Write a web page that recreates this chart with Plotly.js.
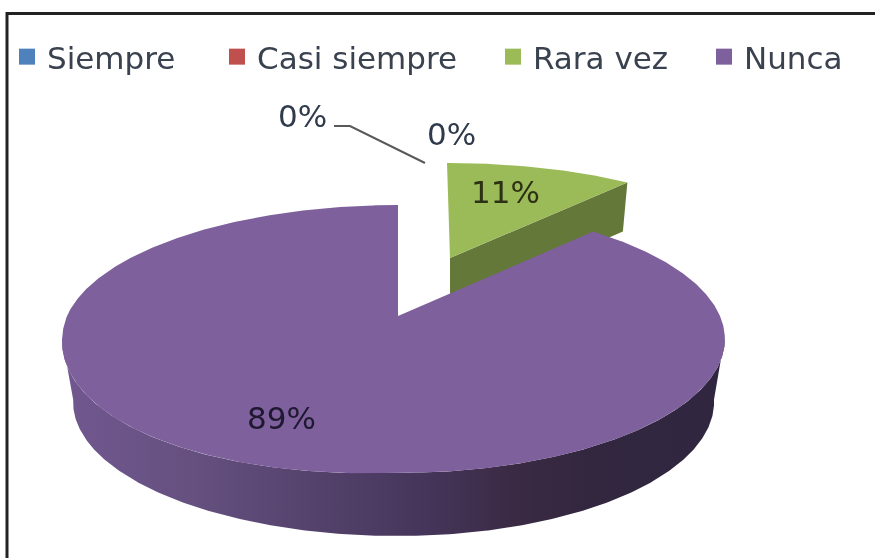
<!DOCTYPE html>
<html>
<head>
<meta charset="utf-8">
<script src="https://cdn.plot.ly/plotly-3.0.1.min.js"></script>
<style>html,body{margin:0;padding:0;background:#fff}#c{width:875px;height:558px;filter:blur(0.6px)}</style>
</head>
<body>
<div id="c"></div>
<script>
var categories = ["Siempre", "Casi siempre", "Rara vez", "Nunca"];
var values = [0, 0, 11, 89];
var labels = ["0%", "0%", "11%", "89%"];
var colors = ["#4f81bd", "#c0504d", "#9bbb59", "#7e609c"];

var total = values.reduce(function (a, b) { return a + b; }, 0);
var greenEnd = values[2] / total * 360;

// Perspective projection of a pie slice
function project(deg, g, drop) {
  var d = deg + g.warp * Math.sin(2 * deg * Math.PI / 180);
  var t = d * Math.PI / 180, X = Math.sin(t), Y = Math.cos(t), w = 1 + g.c * Y;
  var B = X < 0 ? g.bl : g.br;
  var k = drop ? g.shrink : 1;
  var sag = drop ? 0 : g.sag * Math.max(0, -X) * Math.max(0, -Y);
  return [g.x + k * B * X / w + g.lean * Y, g.y - g.a * Y / w + (drop || 0) + sag];
}
function arc(a0, a1, g, drop) {
  var out = [], n = Math.max(2, Math.ceil(Math.abs(a1 - a0) / 0.5));
  for (var i = 0; i <= n; i++) out.push(project(a0 + (a1 - a0) * i / n, g, drop));
  return out;
}
var purple = {x: 398, y: 316, a: 130, bl: 331, br: 322, c: 0.172, warp: 3.5, shrink: 0.967, sag: 13, lean: 0};
var green = {x: 450, y: 258, a: 110, bl: 313, br: 316, c: 0.157, warp: 0, shrink: 0.975, sag: 0, lean: -3};
var depthPurple = 63, depthGreen = 49;

function poly(pts, color, extra) {
  var t = {
    type: "scatter", mode: "lines", x: pts.map(function (p) { return p[0]; }),
    y: pts.map(function (p) { return p[1]; }), fill: "toself", fillcolor: color,
    line: {width: 0, color: color}, showlegend: false, hoverinfo: "skip"
  };
  for (var k in extra) t[k] = extra[k];
  return t;
}

var traces = [];
// green slice: wall, then top
traces.push(poly([[green.x, green.y], project(greenEnd, green, 0), project(greenEnd, green, depthGreen), [green.x, green.y + depthGreen]], "#64783a"));
traces.push(poly([[green.x, green.y]].concat(arc(0, greenEnd, green, 0)), colors[2]));
// purple slice: front wall with gradient, then top
var wallTop = arc(100, 260, purple, 0), wallBot = arc(100, 260, purple, depthPurple).reverse();
traces.push(poly(wallTop.concat(wallBot), "#4a3860", {
  fillgradient: {type: "horizontal", colorscale: [
    [0, "#715890"], [0.2, "#65507f"], [0.38, "#54426c"], [0.55, "#45355a"],
    [0.68, "#3b2a44"], [0.8, "#32273f"], [1, "#302640"]]}
}));
traces.push(poly([[purple.x, purple.y]].concat(arc(greenEnd, 360, purple, 0)), colors[3]));
// leader line
traces.push({type: "scatter", mode: "lines", x: [334, 350, 425], y: [126, 126, 163],
  line: {color: "#595959", width: 2}, showlegend: false, hoverinfo: "skip"});
// legend entries, one legend box each so they can keep the original spacing
var legendIds = ["legend", "legend2", "legend3", "legend4"];
var legendLeft = [7, 217, 493, 704];
categories.forEach(function (name, i) {
  traces.push({type: "scatter", mode: "markers", name: name, x: [null], y: [null], legend: legendIds[i],
    marker: {symbol: "square", size: 19, color: colors[i]}, hoverinfo: "skip"});
});

var labelPos = [[302, 116], [451, 134], [505, 192], [281, 418]];
var labelColor = ["#2f3a4c", "#2f3a4c", "#2c3015", "#1e1830"];
var annotations = labels.map(function (s, i) {
  return {x: labelPos[i][0], y: labelPos[i][1], xref: "x", yref: "y", text: s, showarrow: false,
    xanchor: "center", yanchor: "middle", font: {family: "DejaVu Sans", size: 31, color: labelColor[i]}};
});

var layout = {
  width: 875, height: 558, margin: {l: 0, r: 0, t: 0, b: 0},
  paper_bgcolor: "#fff", plot_bgcolor: "#fff", hovermode: false,
  xaxis: {range: [0, 875], visible: false, fixedrange: true},
  yaxis: {range: [558, 0], visible: false, fixedrange: true},
  shapes: [{type: "rect", xref: "paper", yref: "paper", x0: 7 / 875, x1: 1.02, y0: -0.02, y1: 1 - 13.5 / 558,
    line: {color: "#222", width: 3}, fillcolor: "rgba(0,0,0,0)", layer: "below"}],
  annotations: annotations
};
legendIds.forEach(function (id, i) {
  layout[id] = {orientation: "h", x: legendLeft[i] / 875, y: 1 - 57 / 558, xanchor: "left", yanchor: "middle",
    font: {family: "DejaVu Sans", size: 31, color: "#3a4250"}, itemwidth: 30, bgcolor: "rgba(0,0,0,0)"};
});
Plotly.newPlot("c", traces, layout, {displayModeBar: false, staticPlot: true});
</script>
</body>
</html>
